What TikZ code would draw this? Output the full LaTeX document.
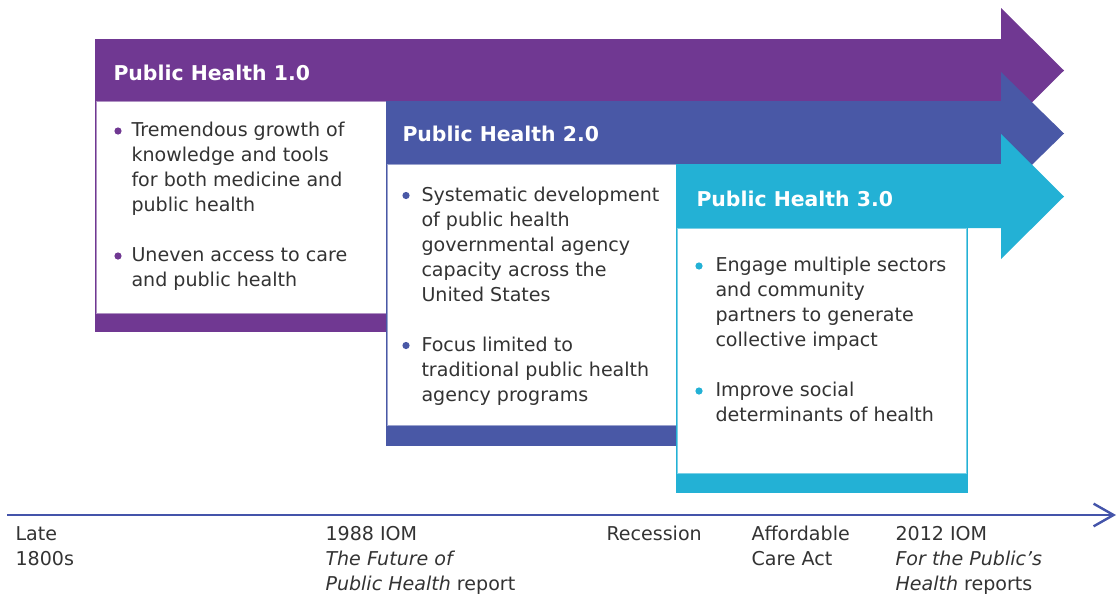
\documentclass[tikz,border=0pt]{standalone}
\usepackage{fontspec}
\setmainfont{DejaVu Sans}
\usetikzlibrary{arrows.meta}

\definecolor{phone}{RGB}{112,56,146}
\definecolor{phtwo}{RGB}{73,88,166}
\definecolor{phthree}{RGB}{35,177,213}
\definecolor{txtgray}{RGB}{51,51,51}
\definecolor{tlblue}{RGB}{68,84,170}

\tikzset{every picture/.style={line width=0.75pt}}
\tikzset{
  headtxt/.style={anchor=base west,inner sep=0pt,text=white,font=\fontsize{15.3}{18.75}\selectfont\bfseries},
  bodytxt/.style={anchor=base west,inner sep=0pt,align=left,text=txtgray,font=\fontsize{14.3}{18.75}\selectfont},
  bulletdot/.style={circle,inner sep=0pt,minimum size=5.4pt},
}

\begin{document}
\begin{tikzpicture}[x=0.75pt,y=0.75pt,yscale=-1,xscale=1]
		\useasboundingbox (0,0) rectangle (1118,593); %set diagram size 1118 x 593
		
		%Shape: Right Arrow [id:dp61203] 
		\fill [phone]  (95,39) -- (1001,39) -- (1001,8) -- (1064,70.5) -- (1001,133) -- (1001,101) -- (95,101) -- cycle ;
		%Shape: Rectangle [id:dp61204] 
		\fill [phone]  (95,101) -- (386,101) -- (386,332) -- (95,332) -- cycle ;
		\draw [phone!55, fill=white]  (96.5,101) -- (386,101) -- (386,313) -- (96.5,313) -- cycle ;
		
		%Shape: Right Arrow [id:dp61205] 
		\fill [phtwo]  (386,101) -- (1001,101) -- (1001,72) -- (1064,133.5) -- (1001,195) -- (1001,164) -- (386,164) -- cycle ;
		%Shape: Rectangle [id:dp61206] 
		\fill [phtwo]  (386,164) -- (676,164) -- (676,446) -- (386,446) -- cycle ;
		\draw [phtwo!55, fill=white]  (387.5,164) -- (676,164) -- (676,425) -- (387.5,425) -- cycle ;
		
		%Shape: Right Arrow [id:dp61207] 
		\fill [phthree]  (676,164) -- (1001,164) -- (1001,134) -- (1064,196.5) -- (1001,259) -- (1001,228) -- (676,228) -- cycle ;
		%Shape: Rectangle [id:dp61208] 
		\fill [phthree]  (676,228) -- (968,228) -- (968,493) -- (676,493) -- cycle ;
		\draw [phthree!60, fill=white]  (677.5,228) -- (966.5,228) -- (966.5,473) -- (677.5,473) -- cycle ;
		
		%Timeline
		\coordinate (tlstart) at (7,515);
		\coordinate (tlend) at (1116,515);
		\draw [tlblue, line width=1.8pt, -{Straight Barb[length=15pt,width=17pt]}] (tlstart) -- (tlend) ;
		
		\draw (113,80) node [headtxt] (hone) {Public Health 1.0};
		\draw (402,141.5) node [headtxt] (htwo) {Public Health 2.0};
		\draw (696,206.5) node [headtxt] (hthree) {Public Health 3.0};
		
		%text nodes sit on the baseline of their last line
		\draw (118,131) node [bulletdot, fill=phone] (dotoa) {};
		\draw (131,211.5) node [bodytxt] (txtoa) {Tremendous growth of\\knowledge and tools\\for both medicine and\\public health};
		\draw (118,256) node [bulletdot, fill=phone] (dotob) {};
		\draw (131,286.5) node [bodytxt] (txtob) {Uneven access to care\\and public health};
		
		\draw (406,195.5) node [bulletdot, fill=phtwo] (dotta) {};
		\draw (421,301) node [bodytxt] (txtta) {Systematic development\\of public health\\governmental agency\\capacity across the\\United States};
		\draw (406,345.5) node [bulletdot, fill=phtwo] (dottb) {};
		\draw (421,401) node [bodytxt] (txttb) {Focus limited to\\traditional public health\\agency programs};
		
		\draw (699,266) node [bulletdot, fill=phthree] (dotha) {};
		\draw (715,346.5) node [bodytxt] (txtha) {Engage multiple sectors\\and community\\partners to generate\\collective impact};
		\draw (699,391) node [bulletdot, fill=phthree] (dothb) {};
		\draw (715,421.5) node [bodytxt] (txthb) {Improve social\\determinants of health};
		
		\draw (15,565) node [bodytxt] (late) {Late\\1800s};
		\draw (325,590) node [bodytxt] (iomone) {1988 IOM\\\textit{The Future of}\\\textit{Public Health} report};
		\draw (606,540) node [bodytxt] (recess) {Recession};
		\draw (751,565) node [bodytxt] (aca) {Affordable\\Care Act};
		\draw (895,590) node [bodytxt] (iomtwo) {2012 IOM\\\textit{For the Public’s}\\\textit{Health} reports};
		
	\end{tikzpicture}
\end{document}
